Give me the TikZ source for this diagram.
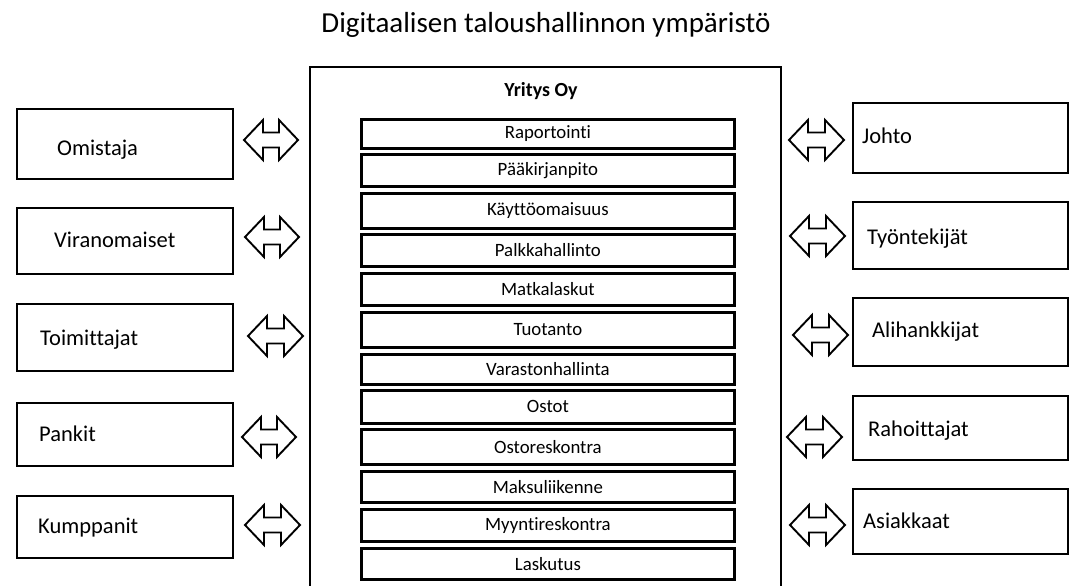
\documentclass[tikz,border=0pt]{standalone}
\usepackage{fontspec}
\setmainfont{Carlito}[Ligatures=NoCommon]
\begin{document}
\begin{tikzpicture}[x=1pt,y=-1pt,
  sidebox/.style={draw=black, line width=2.2pt, fill=white, inner sep=0pt, anchor=north west},
  innerbox/.style={draw=black, line width=2.8pt, inner sep=0pt, minimum width=373pt, anchor=north west},
  sidetext/.style={anchor=west, inner sep=0pt, font=\fontsize{22.5}{26}\selectfont},
  innertext/.style={inner sep=0pt, font=\fontsize{18.8}{22}\selectfont},
  blockarrow/.style={draw=black, line width=1.9pt, fill=white, line join=miter}
]
\useasboundingbox (0,0) rectangle (1069,586);
\fill[white] (0,0) rectangle (1069,586);

% title
\node[inner sep=0pt, font=\fontsize{29}{33}\selectfont] (title) at (546,25) {Digitaalisen taloushallinnon ympäristö};

% big company box (open at bottom)
\coordinate (bl) at (310,592);
\coordinate (br) at (781,592);
\draw[line width=2.8pt] (bl) -- (310,67) -- (781,67) -- (br);
\node[inner sep=0pt, font=\fontsize{20}{24}\selectfont\bfseries] (yritys) at (541,91) {Yritys Oy};

% inner boxes: name / top / bottom / text
\foreach \n/\t/\b/\txt in {
  r1/118/147/Raportointi,
  r2/153/185/Pääkirjanpito,
  r3/192/227/Käyttöomaisuus,
  r4/233/265/Palkkahallinto,
  r5/272/304/Matkalaskut,
  r6/311/346/Tuotanto,
  r7/353/383/Varastonhallinta,
  r8/389/422/Ostot,
  r9/428/463/Ostoreskontra,
  r10/470/501/Maksuliikenne,
  r11/508/540/Myyntireskontra,
  r12/547/578/Laskutus}{
  \pgfmathsetmacro{\h}{\b-\t}
  \node[innerbox, minimum height=\h pt] (\n) at (360,\t) {};
  \node[innertext] (\n t) at (\n.center) {\txt};
}

% left boxes: name / top / bottom / text x / text y / label
\foreach \n/\t/\b/\tx/\ty/\txt in {
  omistaja/108/178/57/150/Omistaja,
  viranomaiset/207/273/54/240/Viranomaiset,
  toimittajat/303/370/40/340/Toimittajat,
  pankit/402/465/39/434/Pankit,
  kumppanit/495/557/38/528/Kumppanit}{
  \pgfmathsetmacro{\h}{\b-\t}
  \node[sidebox, minimum width=216pt, minimum height=\h pt] (\n) at (16,\t) {};
  \node[sidetext] (\n t) at (\tx,\ty) {\txt};
}

% right boxes
\foreach \n/\t/\b/\tx/\ty/\txt in {
  johto/102/172/862/136/Johto,
  tyontekijat/201/268/867/239/Työntekijät,
  alihankkijat/297/365/872/332/Alihankkijat,
  rahoittajat/395/459/868/431/Rahoittajat,
  asiakkaat/488/553/863/521/Asiakkaat}{
  \pgfmathsetmacro{\h}{\b-\t}
  \node[sidebox, minimum width=215pt, minimum height=\h pt] (\n) at (852,\t) {};
  \node[sidetext] (\n t) at (\tx,\ty) {\txt};
}

% double block arrows: left x / right x / center y
\foreach \xa/\xb/\yc in {
  244/298/140, 245/299/237, 248/303/336, 242/296/437, 245/300/525,
  789/844/140, 790/845/236, 793/848/335, 787/842/437, 790/845/525}{
  \draw[blockarrow] (\xa,\yc) -- (\xa+19,\yc-20) -- (\xa+19,\yc-7.5) -- (\xb-19,\yc-7.5)
    -- (\xb-19,\yc-20) -- (\xb,\yc) -- (\xb-19,\yc+20) -- (\xb-19,\yc+7.5)
    -- (\xa+19,\yc+7.5) -- (\xa+19,\yc+20) -- cycle;
}
\end{tikzpicture}
\end{document}
